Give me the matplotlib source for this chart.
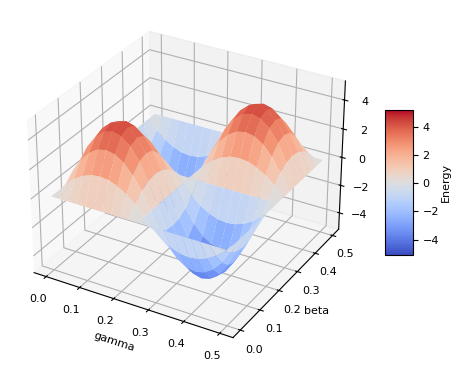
import numpy as np
import matplotlib
matplotlib.use('Agg')
import matplotlib.pyplot as plt
from matplotlib import cm
from matplotlib.colors import Normalize

gamma = np.linspace(0, 0.5, 21)
beta = np.linspace(0, 0.5, 17)

# energy, rows are beta, columns are gamma
energy = np.array([
    [0, 0, 0, 0, 0, 0, 0, 0, 0, 0, 0, 0, 0, 0, 0, 0, 0, 0, 0, 0, 0],
    [0, .67, 1.19, 1.56, 1.79, 1.86, 1.79, 1.56, 1.19, .67, 0, -.67, -1.19, -1.56, -1.79, -1.86, -1.79, -1.56, -1.19, -.67, 0],
    [0, 1.18, 2.09, 2.75, 3.14, 3.27, 3.14, 2.75, 2.09, 1.18, 0, -1.18, -2.09, -2.75, -3.14, -3.27, -3.14, -2.75, -2.09, -1.18, 0],
    [0, 1.49, 2.66, 3.49, 3.98, 4.15, 3.98, 3.49, 2.66, 1.49, 0, -1.49, -2.66, -3.49, -3.98, -4.15, -3.98, -3.49, -2.66, -1.49, 0],
    [0, 1.59, 2.83, 3.71, 4.24, 4.42, 4.24, 3.71, 2.83, 1.59, 0, -1.59, -2.83, -3.71, -4.24, -4.42, -4.24, -3.71, -2.83, -1.59, 0],
    [0, 1.49, 2.66, 3.49, 3.98, 4.15, 3.98, 3.49, 2.66, 1.49, 0, -1.49, -2.66, -3.49, -3.98, -4.15, -3.98, -3.49, -2.66, -1.49, 0],
    [0, 1.18, 2.09, 2.75, 3.14, 3.27, 3.14, 2.75, 2.09, 1.18, 0, -1.18, -2.09, -2.75, -3.14, -3.27, -3.14, -2.75, -2.09, -1.18, 0],
    [0, .67, 1.19, 1.56, 1.79, 1.86, 1.79, 1.56, 1.19, .67, 0, -.67, -1.19, -1.56, -1.79, -1.86, -1.79, -1.56, -1.19, -.67, 0],
    [0, 0, 0, 0, 0, 0, 0, 0, 0, 0, 0, 0, 0, 0, 0, 0, 0, 0, 0, 0, 0],
    [0, -.67, -1.19, -1.56, -1.79, -1.86, -1.79, -1.56, -1.19, -.67, 0, .67, 1.19, 1.56, 1.79, 1.86, 1.79, 1.56, 1.19, .67, 0],
    [0, -1.18, -2.09, -2.75, -3.14, -3.27, -3.14, -2.75, -2.09, -1.18, 0, 1.18, 2.09, 2.75, 3.14, 3.27, 3.14, 2.75, 2.09, 1.18, 0],
    [0, -1.49, -2.66, -3.49, -3.98, -4.15, -3.98, -3.49, -2.66, -1.49, 0, 1.49, 2.66, 3.49, 3.98, 4.15, 3.98, 3.49, 2.66, 1.49, 0],
    [0, -1.59, -2.83, -3.71, -4.24, -4.42, -4.24, -3.71, -2.83, -1.59, 0, 1.59, 2.83, 3.71, 4.24, 4.42, 4.24, 3.71, 2.83, 1.59, 0],
    [0, -1.49, -2.66, -3.49, -3.98, -4.15, -3.98, -3.49, -2.66, -1.49, 0, 1.49, 2.66, 3.49, 3.98, 4.15, 3.98, 3.49, 2.66, 1.49, 0],
    [0, -1.18, -2.09, -2.75, -3.14, -3.27, -3.14, -2.75, -2.09, -1.18, 0, 1.18, 2.09, 2.75, 3.14, 3.27, 3.14, 2.75, 2.09, 1.18, 0],
    [0, -.67, -1.19, -1.56, -1.79, -1.86, -1.79, -1.56, -1.19, -.67, 0, .67, 1.19, 1.56, 1.79, 1.86, 1.79, 1.56, 1.19, .67, 0],
    [0, 0, 0, 0, 0, 0, 0, 0, 0, 0, 0, 0, 0, 0, 0, 0, 0, 0, 0, 0, 0],
])
z_ticks = [-4, -2, 0, 2, 4]
bar_ticks = [-4, -2, 0, 2, 4]

plt.rcParams['font.size'] = 8

fig = plt.figure(figsize=(4.57, 3.68), dpi=100)
ax = fig.add_axes([-0.034, 0.023, 0.875, 0.965], projection='3d')
ax.set_box_aspect((4, 4, 3.04))

X, Y = np.meshgrid(gamma, beta)
norm = Normalize(-5.1, 5.2)
ax.plot_surface(X, Y, energy, cmap='coolwarm', norm=norm, linewidth=0)
ax.set_zlim(-5.2, 5.3)
ax.set_xlabel('gamma', labelpad=-2)
ax.set_ylabel('beta', labelpad=-2)
ax.set_zticks(z_ticks)
ax.tick_params(pad=1)

cax = fig.add_axes([0.8425, 0.307, 0.061, 0.394])
cbar = fig.colorbar(cm.ScalarMappable(norm=norm, cmap='coolwarm'), cax=cax)
cbar.set_label('Energy', labelpad=1)
cbar.set_ticks(bar_ticks)

fig.savefig('out.png', dpi=100)
